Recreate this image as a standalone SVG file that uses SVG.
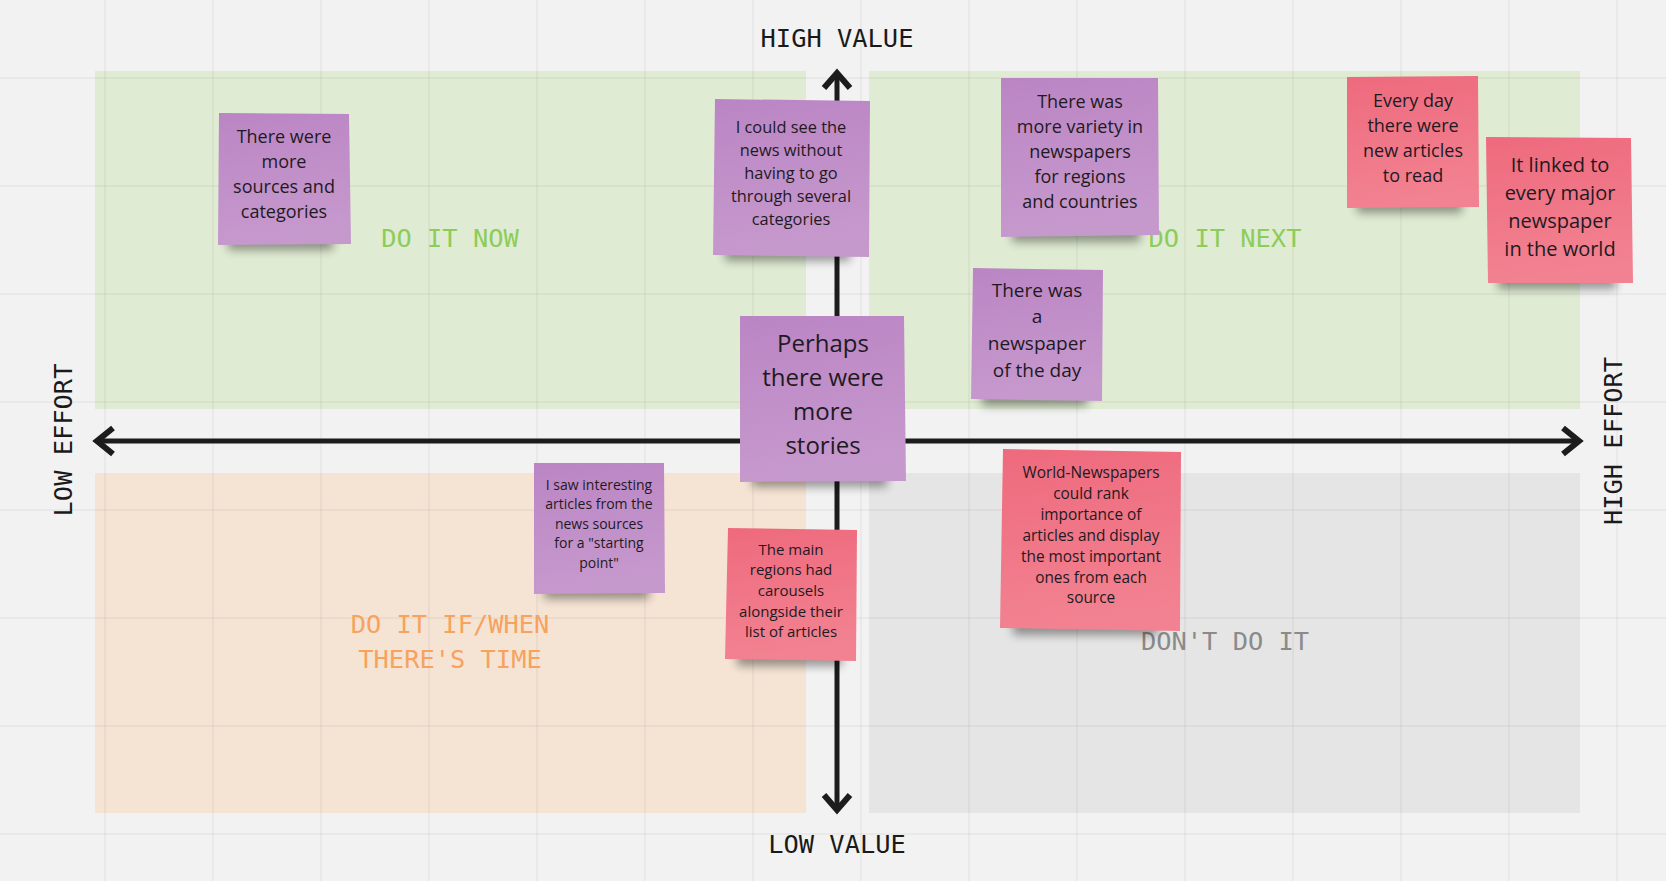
<svg xmlns="http://www.w3.org/2000/svg" width="1666" height="881" viewBox="0 0 1666 881">
<style>
.grid line{stroke:#000;stroke-opacity:.035;stroke-width:2}
.lbl{font-family:"DejaVu Sans Mono","Liberation Mono",monospace;font-size:25.4px;text-anchor:middle}
.axl{fill:#1a1a1a}
.note text{font-family:"Open Sans","Noto Sans",sans-serif;fill:#1f1a22;text-anchor:middle}
.ax{stroke:#1c1c1c;stroke-width:5;fill:none;stroke-linecap:butt}
.head{stroke:#1c1c1c;stroke-width:6;fill:none;stroke-linejoin:miter}
.shd{fill:#000;opacity:.38;filter:url(#blur)}
</style>
<defs>
<linearGradient id="gp" x1="0" y1="0" x2="0.15" y2="1">
<stop offset="0" stop-color="#bb85c4"/><stop offset="1" stop-color="#c699cd"/>
</linearGradient>
<linearGradient id="gr" x1="0" y1="0" x2="0.15" y2="1">
<stop offset="0" stop-color="#ee6a7d"/><stop offset="1" stop-color="#f28291"/>
</linearGradient>
<filter id="blur" x="-30%" y="-100%" width="160%" height="300%"><feGaussianBlur stdDeviation="5"/></filter>
</defs>
<rect width="1666" height="881" fill="#f2f2f2"/>
<g id="quadrants">
<rect x="95" y="71" width="711" height="338" fill="#e0ebd3"/>
<rect x="869" y="71" width="711" height="338" fill="#e0ebd3"/>
<rect x="95" y="473" width="711" height="340" fill="#f5e4d4"/>
<rect x="869" y="473" width="711" height="340" fill="#e5e5e5"/>
</g>
<g class="grid">
<line x1="105" y1="0" x2="105" y2="881"/><line x1="213" y1="0" x2="213" y2="881"/><line x1="321" y1="0" x2="321" y2="881"/><line x1="429" y1="0" x2="429" y2="881"/><line x1="537" y1="0" x2="537" y2="881"/><line x1="645" y1="0" x2="645" y2="881"/><line x1="753" y1="0" x2="753" y2="881"/><line x1="861" y1="0" x2="861" y2="881"/><line x1="969" y1="0" x2="969" y2="881"/><line x1="1077" y1="0" x2="1077" y2="881"/><line x1="1185" y1="0" x2="1185" y2="881"/><line x1="1293" y1="0" x2="1293" y2="881"/><line x1="1401" y1="0" x2="1401" y2="881"/><line x1="1509" y1="0" x2="1509" y2="881"/><line x1="1617" y1="0" x2="1617" y2="881"/>
<line x1="0" y1="78" x2="1666" y2="78"/><line x1="0" y1="186" x2="1666" y2="186"/><line x1="0" y1="294" x2="1666" y2="294"/><line x1="0" y1="402" x2="1666" y2="402"/><line x1="0" y1="510" x2="1666" y2="510"/><line x1="0" y1="618" x2="1666" y2="618"/><line x1="0" y1="726" x2="1666" y2="726"/><line x1="0" y1="834" x2="1666" y2="834"/>
</g>
<g id="quadrant-labels" class="lbl">
<text x="450" y="247" fill="#8ccd58">DO IT NOW</text>
<text x="1225" y="247" fill="#8ccd58">DO IT NEXT</text>
<text x="450" y="633" fill="#f7a25d">DO IT IF/WHEN</text>
<text x="450" y="668" fill="#f7a25d">THERE'S TIME</text>
<text x="1225" y="650" fill="#8a8a8a">DON'T DO IT</text>
</g>
<g id="axis-labels" class="lbl axl">
<text x="837" y="47">HIGH VALUE</text>
<text x="837" y="853">LOW VALUE</text>
<text transform="translate(72,440) rotate(-90)">LOW EFFORT</text>
<text transform="translate(1622,441) rotate(-90)">HIGH EFFORT</text>
</g>
<g id="axes">
<line class="ax" x1="100" y1="441" x2="1576" y2="441"/>
<line class="ax" x1="837" y1="76" x2="837" y2="808"/>
<polyline class="head" points="113,428 97,441 113,454"/>
<polyline class="head" points="1563,428 1579,441 1563,454"/>
<polyline class="head" points="824,88 837,73 850,88"/>
<polyline class="head" points="824,795 837,810 850,795"/>
</g>
<g id="note-1" class="note">
<rect class="shd" x="228" y="232" width="105" height="18"/>
<polygon points="219,113 349,114 351,244 218,245" fill="url(#gp)"/>
<g font-size="18"><text x="284" y="143">There were</text><text x="284" y="168">more</text><text x="284" y="193">sources and</text><text x="284" y="218">categories</text></g>
</g>
<g id="note-2" class="note">
<rect class="shd" x="725" y="243" width="125" height="18"/>
<polygon points="715,99 870,101 869,257 713,255" fill="url(#gp)"/>
<g font-size="16.4"><text x="791" y="133">I could see the</text><text x="791" y="156">news without</text><text x="791" y="179">having to go</text><text x="791" y="202">through several</text><text x="791" y="225">categories</text></g>
</g>
<g id="note-3" class="note">
<rect class="shd" x="1012" y="224" width="128" height="18"/>
<polygon points="1001,78 1158,78 1159,235 1001,237" fill="url(#gp)"/>
<g font-size="18"><text x="1080" y="108">There was</text><text x="1080" y="133">more variety in</text><text x="1080" y="158">newspapers</text><text x="1080" y="183">for regions</text><text x="1080" y="208">and countries</text></g>
</g>
<g id="note-4" class="note">
<rect class="shd" x="1357" y="195" width="105" height="18"/>
<polygon points="1347,77 1478,76 1479,207 1347,208" fill="url(#gr)"/>
<g font-size="18"><text x="1413" y="107">Every day</text><text x="1413" y="132">there were</text><text x="1413" y="157">new articles</text><text x="1413" y="182">to read</text></g>
</g>
<g id="note-5" class="note">
<rect class="shd" x="1498" y="271" width="118" height="18"/>
<polygon points="1486,137 1631,138 1633,283 1488,283" fill="url(#gr)"/>
<g font-size="20"><text x="1560" y="172">It linked to</text><text x="1560" y="200">every major</text><text x="1560" y="228">newspaper</text><text x="1560" y="256">in the world</text></g>
</g>
<g id="note-6" class="note">
<rect class="shd" x="982" y="388" width="105" height="18"/>
<polygon points="973,268 1103,270 1102,401 971,399" fill="url(#gp)"/>
<g font-size="19"><text x="1037" y="297">There was</text><text x="1037" y="323">a</text><text x="1037" y="350">newspaper</text><text x="1037" y="377">of the day</text></g>
</g>
<g id="note-7" class="note">
<rect class="shd" x="752" y="469" width="135" height="18"/>
<polygon points="740,316 904,316 906,481 740,482" fill="url(#gp)"/>
<g font-size="24"><text x="823" y="352">Perhaps</text><text x="823" y="386">there were</text><text x="823" y="420">more</text><text x="823" y="454">stories</text></g>
</g>
<g id="note-8" class="note">
<rect class="shd" x="544" y="581" width="105" height="18"/>
<polygon points="534,463 664,463 665,593 534,594" fill="url(#gp)"/>
<g font-size="14"><text x="599" y="490">I saw interesting</text><text x="599" y="509">articles from the</text><text x="599" y="529">news sources</text><text x="599" y="548">for a &quot;starting</text><text x="599" y="568">point&quot;</text></g>
</g>
<g id="note-9" class="note">
<rect class="shd" x="737" y="648" width="105" height="18"/>
<polygon points="728,528 857,530 856,661 725,659" fill="url(#gr)"/>
<g font-size="15"><text x="791" y="555">The main</text><text x="791" y="575">regions had</text><text x="791" y="596">carousels</text><text x="791" y="617">alongside their</text><text x="791" y="637">list of articles</text></g>
</g>
<g id="note-10" class="note">
<rect class="shd" x="1013" y="617" width="145" height="18"/>
<polygon points="1003,449 1181,452 1180,631 1000,628" fill="url(#gr)"/>
<g font-size="15.4"><text x="1091" y="478">World-Newspapers</text><text x="1091" y="499">could rank</text><text x="1091" y="520">importance of</text><text x="1091" y="541">articles and display</text><text x="1091" y="562">the most important</text><text x="1091" y="583">ones from each</text><text x="1091" y="603">source</text></g>
</g>
</svg>
